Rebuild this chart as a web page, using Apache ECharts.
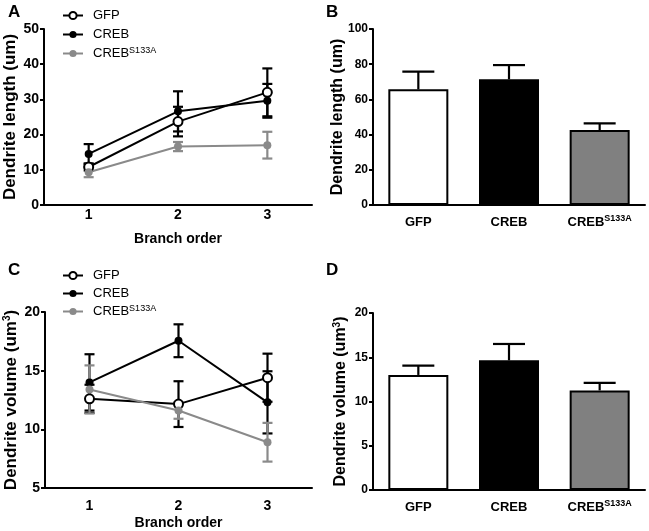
<!DOCTYPE html>
<html>
<head>
<meta charset="utf-8">
<script src="https://cdn.jsdelivr.net/npm/echarts@6/dist/echarts.min.js"></script>
<style>
  html, body { margin: 0; padding: 0; background: #fff; }
  #chart { width: 649px; height: 531px; }
</style>
</head>
<body>
<div id="chart"></div>
<script>
const BRANCH_ORDERS = ["1", "2", "3"];
const GROUPS = ["GFP", "CREB", "CREB S133A"];

// panel A: dendrite length by branch order (mean, sem)
const lengthGfp = [10.8, 23.7, 32.0];
const lengthGfpErr = [1.0, 4.2, 6.8];
const lengthCreb = [14.5, 26.6, 29.6];
const lengthCrebErr = [2.8, 5.7, 4.8];
const lengthS133a = [9.3, 16.6, 17.0];
const lengthS133aErr = [1.4, 1.3, 3.8];

// panel B: total dendrite length
const totalLength = [65.7, 71.4, 42.6];
const totalLengthErr = [10.1, 8.1, 3.8];

// panel C: dendrite volume by branch order
const volumeGfp = [12.6, 12.15, 14.4];
const volumeGfpErr = [1.2, 1.95, 2.05];
const volumeCreb = [14.0, 17.55, 12.3];
const volumeCrebErr = [2.4, 1.4, 2.65];
const volumeS133a = [13.4, 11.6, 8.9];
const volumeS133aErr = [2.05, 0.7, 1.65];

// panel D: total dendrite volume
const totalVolume = [13.0, 14.65, 11.25];
const totalVolumeErr = [1.05, 1.85, 0.85];

const FONT = "Liberation Sans, Arial, sans-serif";
const GRAY = "#8a8a8a";
const SUP = { fontSize: 9, fontFamily: FONT, lineHeight: 8, verticalAlign: "top" };
const SUP_BOLD = Object.assign({ fontWeight: "bold" }, SUP);

function supName(name) {
  return name === "CREB S133A" ? "CREB{sup|S133A}" : name;
}

function errorRenderer(capHalf, color, upOnly) {
  return (params, api) => {
    const x = api.value(0);
    const top = api.coord([x, api.value(2)]);
    const bottom = api.coord([x, api.value(1)]);
    const style = { stroke: color, lineWidth: 2.2 };
    const children = [
      { type: "line", shape: { x1: top[0], y1: top[1], x2: bottom[0], y2: bottom[1] }, style },
      { type: "line", shape: { x1: top[0] - capHalf, y1: top[1], x2: top[0] + capHalf, y2: top[1] }, style },
    ];
    if (!upOnly) {
      children.push({
        type: "line",
        shape: { x1: bottom[0] - capHalf, y1: bottom[1], x2: bottom[0] + capHalf, y2: bottom[1] },
        style,
      });
    }
    return { type: "group", children };
  };
}

function errorData(values, errors, upOnly) {
  return values.map((v, i) => [i, upOnly ? v : v - errors[i], v + errors[i]]);
}

function lineSeries(name, values, errors, axisIndex, style) {
  return [
    {
      type: "custom",
      xAxisIndex: axisIndex,
      yAxisIndex: axisIndex,
      renderItem: errorRenderer(5, style.color, false),
      data: errorData(values, errors, false),
      z: 2,
    },
    {
      name,
      type: "line",
      xAxisIndex: axisIndex,
      yAxisIndex: axisIndex,
      data: values,
      symbol: "circle",
      symbolSize: style.open ? 9 : 8,
      lineStyle: { color: style.color, width: 2 },
      itemStyle: style.open
        ? { color: "#fff", borderColor: style.color, borderWidth: 2 }
        : { color: style.color, borderColor: style.color, borderWidth: 0 },
      z: 3,
    },
  ];
}

function barSeries(values, errors, axisIndex) {
  const fills = ["#ffffff", "#000000", "#808080"];
  return [
    {
      type: "bar",
      xAxisIndex: axisIndex,
      yAxisIndex: axisIndex,
      barWidth: 60,
      data: values.map((v, i) => ({
        value: v,
        itemStyle: { color: fills[i], borderColor: "#000", borderWidth: 2 },
      })),
    },
    {
      type: "custom",
      xAxisIndex: axisIndex,
      yAxisIndex: axisIndex,
      renderItem: errorRenderer(16, "#000", true),
      data: errorData(values, errors, true),
      z: 3,
    },
  ];
}

const axisLine = { lineStyle: { color: "#000", width: 2 } };
const axisLabel = { color: "#000", fontWeight: "bold", fontSize: 14, fontFamily: FONT };
const nameStyle = {
  color: "#000",
  fontWeight: "bold",
  fontSize: 14,
  fontFamily: FONT,
};

function yNameStyle(size) {
  return {
    color: "#000",
    fontWeight: "bold",
    fontSize: size,
    lineHeight: size + 2,
    fontFamily: FONT,
    rich: { sup: { fontSize: 10, fontWeight: "bold", fontFamily: FONT, lineHeight: 9, verticalAlign: "top" } },
  };
}

function xLineAxis(gridIndex, margin, nameGap) {
  return {
    type: "category",
    gridIndex,
    data: BRANCH_ORDERS,
    boundaryGap: true,
    name: "Branch order",
    nameLocation: "middle",
    nameGap,
    nameMoveOverlap: false,
    nameTextStyle: nameStyle,
    axisLine,
    axisTick: { alignWithLabel: true, length: 4, lineStyle: { color: "#000", width: 2 } },
    axisLabel: Object.assign({ margin, interval: 0 }, axisLabel),
  };
}

function xBarAxis(gridIndex) {
  return {
    type: "category",
    gridIndex,
    data: GROUPS,
    axisLine,
    axisTick: { show: false },
    axisLabel: Object.assign({}, axisLabel, {
      fontSize: 13,
      lineHeight: 16,
      margin: 9,
      interval: 0,
      hideOverlap: false,
      formatter: supName,
      rich: { sup: SUP_BOLD },
    }),
  };
}

function yAxis(gridIndex, name, min, max, interval, nameGap, labelSize, nameSize) {
  return {
    type: "value",
    gridIndex,
    min,
    max,
    interval,
    name,
    nameLocation: "middle",
    nameGap,
    nameMoveOverlap: false,
    nameTextStyle: yNameStyle(nameSize),
    splitLine: { show: false },
    axisLine: Object.assign({ show: true }, axisLine),
    axisTick: { show: true, length: 4, lineStyle: { color: "#000", width: 2 } },
    axisLabel: Object.assign({}, axisLabel, { margin: 5, fontSize: labelSize }),
  };
}

function legend(top, gap) {
  return {
    orient: "vertical",
    left: 57,
    top,
    itemWidth: 20,
    itemHeight: 9,
    itemGap: gap,
    data: GROUPS,
    formatter: supName,
    textStyle: {
      color: "#000",
      fontSize: 13,
      lineHeight: 15,
      fontFamily: FONT,
      padding: [0, 0, 0, 5],
      rich: { sup: SUP },
    },
  };
}

const chart = echarts.init(document.getElementById("chart"));

const black = { color: "#000" };
const open = { color: "#000", open: true };
const gray = { color: GRAY };

chart.setOption({
  animation: false,
  grid: [
    { left: 44, top: 29, width: 268, height: 176 },
    { left: 373, top: 29, width: 272, height: 176 },
    { left: 45, top: 312, width: 267, height: 177 },
    { left: 373, top: 313, width: 272, height: 177 },
  ],
  legend: [legend(3, 4), legend(263, 3)],
  xAxis: [xLineAxis(0, 3, 27), xBarAxis(1), xLineAxis(2, 11, 28), xBarAxis(3)],
  yAxis: [
    yAxis(0, "Dendrite length (um)", 0, 50, 10, 24, 14, 17),
    yAxis(1, "Dendrite length (um)", 0, 100, 20, 26, 12, 16),
    yAxis(2, "Dendrite volume (um{sup|3})", 5, 20, 5, 24, 14, 17),
    yAxis(3, "Dendrite volume (um{sup|3})", 0, 20, 5, 23, 12, 16),
  ],
  graphic: [
    { type: "text", left: 8, top: 4, style: { text: "A", font: `bold 17px ${FONT}`, fill: "#000" } },
    { type: "text", left: 326, top: 4, style: { text: "B", font: `bold 17px ${FONT}`, fill: "#000" } },
    { type: "text", left: 8, top: 262, style: { text: "C", font: `bold 17px ${FONT}`, fill: "#000" } },
    { type: "text", left: 326, top: 262, style: { text: "D", font: `bold 17px ${FONT}`, fill: "#000" } },
  ],
  series: [
    ...lineSeries("GFP", lengthGfp, lengthGfpErr, 0, open),
    ...lineSeries("CREB", lengthCreb, lengthCrebErr, 0, black),
    ...lineSeries("CREB S133A", lengthS133a, lengthS133aErr, 0, gray),
    ...barSeries(totalLength, totalLengthErr, 1),
    ...lineSeries("GFP", volumeGfp, volumeGfpErr, 2, open),
    ...lineSeries("CREB", volumeCreb, volumeCrebErr, 2, black),
    ...lineSeries("CREB S133A", volumeS133a, volumeS133aErr, 2, gray),
    ...barSeries(totalVolume, totalVolumeErr, 3),
  ],
});
</script>
</body>
</html>
